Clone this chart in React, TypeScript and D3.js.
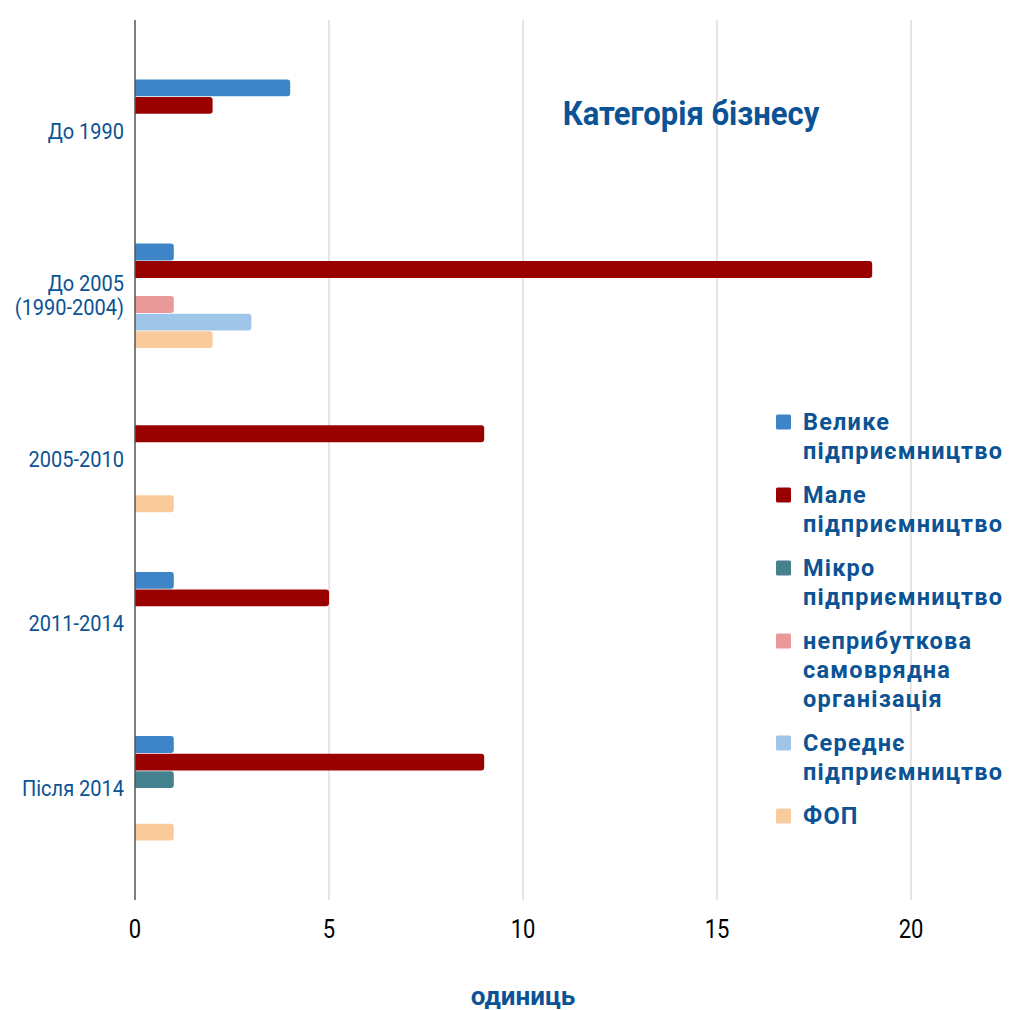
import React from "react";
import * as d3 from "d3";

const categories = ["До 1990", "До 2005\n(1990-2004)", "2005-2010", "2011-2014", "Після 2014"];
const seriesNames = [
  "Велике підприємництво",
  "Мале підприємництво",
  "Мікро підприємництво",
  "неприбуткова самоврядна організація",
  "Середнє підприємництво",
  "ФОП",
];
const legendLines = [
  ["Велике", "підприємництво"],
  ["Мале", "підприємництво"],
  ["Мікро", "підприємництво"],
  ["неприбуткова", "самоврядна", "організація"],
  ["Середнє", "підприємництво"],
  ["ФОП"],
];
const colors = ["#3d85c6", "#990000", "#45818e", "#ea9999", "#9fc5e8", "#f9cb9c"];
const velyke = [4, 1, 0, 1, 1];
const male = [2, 19, 9, 5, 9];
const mikro = [0, 0, 0, 0, 1];
const neprybutkova = [0, 1, 0, 0, 0];
const serednie = [0, 3, 0, 0, 0];
const fop = [0, 2, 1, 0, 1];
const seriesValues = [velyke, male, mikro, neprybutkova, serednie, fop];
const xTicks = [0, 5, 10, 15, 20];

const W = 1013;
const H = 1010;
const BLUE = "#0b5394";
const FONT = "Roboto, 'Noto Sans', sans-serif";

function barPath(x0: number, x1: number, y0: number, h: number, r: number) {
  const p = d3.path();
  const rr = Math.min(r, (x1 - x0) / 2);
  p.moveTo(x0, y0);
  p.lineTo(x1 - rr, y0);
  p.arcTo(x1, y0, x1, y0 + rr, rr);
  p.lineTo(x1, y0 + h - rr);
  p.arcTo(x1, y0 + h, x1 - rr, y0 + h, rr);
  p.lineTo(x0, y0 + h);
  p.closePath();
  return p.toString();
}

export default function App() {
  const x = d3.scaleLinear().domain([0, 20]).range([135, 911]);
  const y = d3
    .scaleBand<string>()
    .domain(categories)
    .range([20, 900])
    .paddingInner(0.36)
    .paddingOuter(0.36);
  const inner = d3
    .scaleBand<string>()
    .domain(seriesNames)
    .range([0, y.bandwidth()])
    .padding(0);

  const legendX = 776;
  const legendTop = 422;
  const lineH = 29;
  const gap = 15;
  let acc = legendTop;
  const legendPos = legendLines.map((lines) => {
    const p = acc;
    acc += lines.length * lineH + gap;
    return p;
  });

  const stretch = (cy: number, k: number) =>
    `translate(0, ${cy}) scale(1,${k}) translate(0, ${-cy})`;

  return (
    <svg
      width={W}
      height={H}
      style={{ position: "absolute", left: 0, top: 0, background: "#fff" }}
      fontFamily={FONT}
    >
      <rect x={0} y={0} width={W} height={H} fill="#fff" />
      {xTicks.map((t) => (
        <g key={t}>
          {t !== 0 && (
            <line x1={x(t)} x2={x(t)} y1={20} y2={900} stroke="#cccccc" strokeWidth={1} />
          )}
          <text
            x={x(t)}
            y={929}
            textAnchor="middle"
            dominantBaseline="central"
            fontSize={22}
            fill="#000"
            transform={stretch(929, 1.15)}
          >
            {t}
          </text>
        </g>
      ))}
      {categories.map((c, ci) => (
        <g key={c}>
          {seriesNames.map((s, si) => {
            const v = seriesValues[si][ci];
            if (!v) return null;
            const y0 = (y(c) as number) + (inner(s) as number);
            return (
              <path
                key={s}
                d={barPath(x(0), x(v), y0 + 0.3, inner.bandwidth() - 0.6, 3)}
                fill={colors[si]}
              />
            );
          })}
          {(() => {
            const lines = c.split("\n");
            const cy = (y(c) as number) + y.bandwidth() / 2;
            const lh = 24;
            return lines.map((l, li) => {
              const ly = cy + (li - (lines.length - 1) / 2) * lh;
              return (
                <text
                  key={li}
                  x={124}
                  y={ly}
                  textAnchor="end"
                  dominantBaseline="central"
                  fontSize={20}
                  fill={BLUE}
                  transform={stretch(ly, 1.06)}
                >
                  {l}
                </text>
              );
            });
          })()}
        </g>
      ))}
      <line x1={135} x2={135} y1={20} y2={900} stroke="#555" strokeWidth={1.5} />
      <text
        x={691}
        y={114}
        textAnchor="middle"
        dominantBaseline="central"
        fontSize={31}
        fontWeight="bold"
        fill={BLUE}
        transform={stretch(114, 1.08)}
      >
        Категорія бізнесу
      </text>
      {legendLines.map((lines, i) => (
        <g key={i}>
          <rect x={legendX} y={legendPos[i] - 7.5} width={15} height={15} rx={1.5} fill={colors[i]} />
          {lines.map((l, li) => {
            const ly = legendPos[i] + li * lineH;
            return (
              <text
                key={li}
                x={803}
                y={ly}
                dominantBaseline="central"
                fontSize={23.5}
                fontWeight="bold"
                letterSpacing={1.2}
                fill={BLUE}
              >
                {l}
              </text>
            );
          })}
        </g>
      ))}
      <text
        x={523}
        y={996}
        textAnchor="middle"
        dominantBaseline="central"
        fontSize={26}
        fontWeight="bold"
        fill={BLUE}
      >
        одиниць
      </text>
    </svg>
  );
}
